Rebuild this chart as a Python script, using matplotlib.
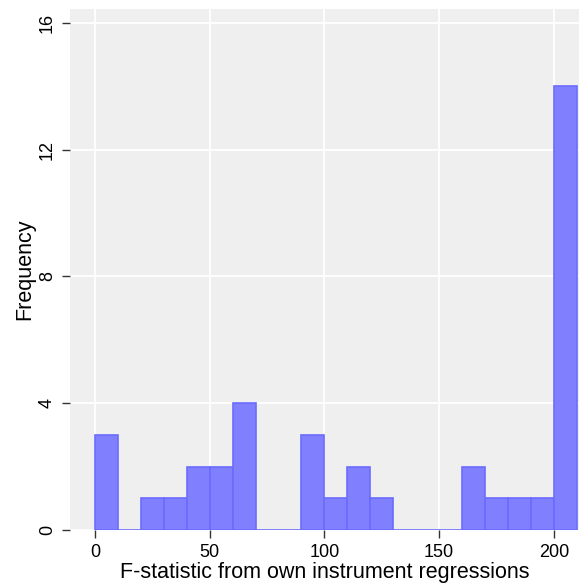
import matplotlib
matplotlib.use("Agg")
import matplotlib.pyplot as plt
import numpy as np

bin_edges = list(range(0, 220, 10))
counts = [3, 0, 1, 1, 2, 2, 4, 0, 0, 3, 1, 2, 1, 0, 0, 0, 2, 1, 1, 1, 14]
x_ticks = [0, 50, 100, 150, 200]
y_ticks = [0, 4, 8, 12, 16]

plt.rcParams['font.family'] = ['Liberation Sans', 'DejaVu Sans']

fig = plt.figure(figsize=(5.79, 5.88), dpi=100)
ax = fig.add_axes([70/579, 1 - 530/588, (579-70)/579, (530-9)/588])
ax.set_facecolor('#efefef')

lefts = np.array(bin_edges[:-1])
ax.bar(lefts, counts, width=10, align='edge', color='#8080ff',
       edgecolor='#6b6bff', linewidth=1.2, zorder=3)

ax.set_xlim(-10.9, 211)
ax.set_ylim(0, 16.44)
ax.set_xticks(x_ticks)
ax.set_yticks(y_ticks)
ax.set_yticklabels([str(v) for v in y_ticks], rotation=90, va='center')
ax.tick_params(axis='both', labelsize=13, length=6, width=1, color='#333333', pad=4)
ax.grid(True, color='white', linewidth=1.3, zorder=1)
ax.set_axisbelow(True)
for s in ax.spines.values():
    s.set_visible(False)

ax.set_xlabel('F-statistic from own instrument regressions', fontsize=15.5, labelpad=1)
ax.set_ylabel('Frequency', fontsize=15.5, labelpad=3)

fig.savefig('out.png', dpi=100)
